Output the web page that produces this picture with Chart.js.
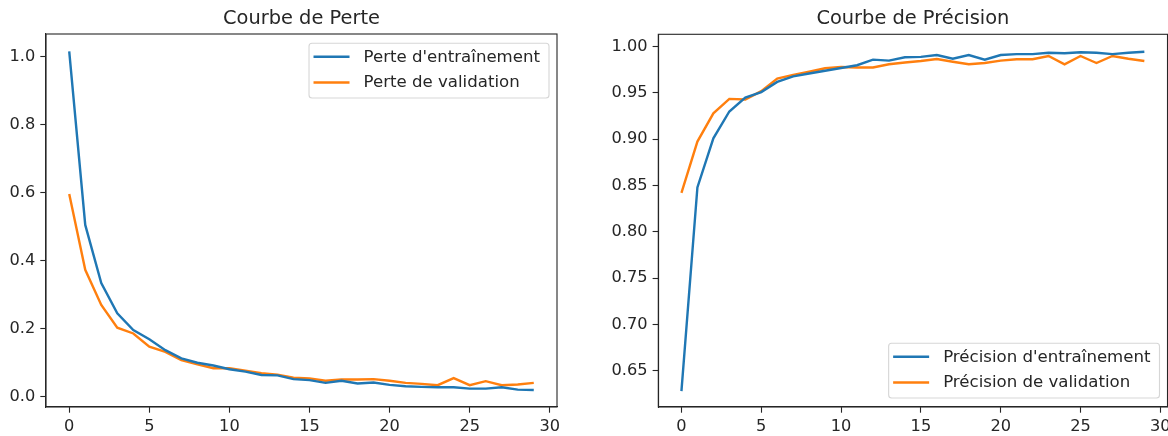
<!DOCTYPE html>
<html>
<head>
<meta charset="utf-8">
<script src="https://cdn.jsdelivr.net/npm/chart.js@4.4.1/dist/chart.umd.min.js"></script>
<style>
  html, body { margin: 0; padding: 0; background: #fff; }
  #wrap { position: relative; width: 1168px; height: 436px; }
  .box { position: absolute; top: 0; width: 584px; height: 436px; }
</style>
</head>
<body>
<div id="wrap">
  <div class="box" style="left:0"><canvas id="lossChart"></canvas></div>
  <div class="box" style="left:584px"><canvas id="accChart"></canvas></div>
</div>
<script>
// Epochs (x)
const epochs = [0,1,2,3,4,5,6,7,8,9,10,11,12,13,14,15,16,17,18,19,20,21,22,23,24,25,26,27,28,29];

// Courbe de Perte
const trainLoss = [1.015,0.505,0.334,0.245,0.196,0.169,0.137,0.113,0.100,0.092,0.081,0.074,0.064,0.063,0.052,
                   0.049,0.041,0.047,0.039,0.042,0.035,0.031,0.029,0.028,0.028,0.024,0.024,0.028,0.021,0.020];
const valLoss   = [0.596,0.373,0.270,0.203,0.186,0.147,0.132,0.108,0.095,0.084,0.084,0.077,0.069,0.065,0.056,
                   0.054,0.047,0.051,0.051,0.052,0.047,0.041,0.038,0.034,0.055,0.034,0.046,0.034,0.036,0.041];

// Courbe de Précision
const trainAcc = [0.628,0.848,0.901,0.930,0.945,0.951,0.962,0.968,0.971,0.974,0.977,0.980,0.986,0.985,0.9886,
                  0.989,0.991,0.987,0.991,0.986,0.991,0.992,0.992,0.9935,0.993,0.994,0.9935,0.992,0.9935,0.9946];
const valAcc   = [0.842,0.8975,0.928,0.9436,0.943,0.952,0.9655,0.9695,0.973,0.9767,0.978,0.9775,0.9775,0.981,0.983,
                  0.9846,0.9867,0.9838,0.981,0.9824,0.985,0.9864,0.9864,0.990,0.981,0.990,0.9824,0.990,0.987,0.9846];

// Tick values
const xTicks = [0, 5, 10, 15, 20, 25, 30];
const lossTicks = [0.0, 0.2, 0.4, 0.6, 0.8, 1.0];
const accTicks = [0.65, 0.70, 0.75, 0.80, 0.85, 0.90, 0.95, 1.00];

const BLUE = '#1f77b4';
const ORANGE = '#ff7f0e';
const INK = '#262626';
const FONT = 'DejaVu Sans';
const TICK_PX = 16.2;
const LEGEND_PX = 16.6;

const toPoints = (ys) => ys.map((y, i) => ({ x: epochs[i], y }));

// Cadre complet + titre + légende façon matplotlib
const mplPlugin = {
  id: 'mpl',
  afterDraw(chart, args, opts) {
    const { ctx, chartArea: a } = chart;
    ctx.save();
    ctx.strokeStyle = INK;
    ctx.lineWidth = 1.1;
    ctx.strokeRect(a.left, a.top, a.right - a.left, a.bottom - a.top);

    // titre
    ctx.fillStyle = INK;
    ctx.font = `19.4px "${FONT}"`;
    ctx.textAlign = 'center';
    ctx.textBaseline = 'alphabetic';
    ctx.fillText(opts.title, (a.left + a.right) / 2, 24);

    // légende
    ctx.font = `${LEGEND_PX}px "${FONT}"`;
    const sets = chart.data.datasets;
    const textW = Math.max(...sets.map(d => ctx.measureText(d.label).width));
    const padL = 4.5, handle = 36, gap = 14, padR = 9;
    const w = padL + handle + gap + textW + padR;
    const h = 54.7, rowH = 25.7;
    const right = a.right - 8;
    const top = opts.legendPos === 'upper right' ? a.top + 9.3 : a.bottom - 9 - h;
    const left = right - w;
    ctx.beginPath();
    ctx.roundRect(left, top, w, h, 3);
    ctx.fillStyle = 'rgba(255,255,255,0.8)';
    ctx.fill();
    ctx.strokeStyle = 'rgba(204,204,204,0.8)';
    ctx.lineWidth = 1.1;
    ctx.stroke();
    sets.forEach((d, i) => {
      const cy = top + 13.5 + i * rowH;
      ctx.beginPath();
      ctx.strokeStyle = d.borderColor;
      ctx.lineWidth = 2.4;
      ctx.moveTo(left + padL, cy);
      ctx.lineTo(left + padL + handle, cy);
      ctx.stroke();
      ctx.fillStyle = INK;
      ctx.textAlign = 'left';
      ctx.textBaseline = 'middle';
      ctx.fillText(d.label, left + padL + handle + gap, cy + 0.5);
    });
    ctx.restore();
  }
};

const makeChart = (canvasId, cfg) => {
  const ctx = document.getElementById(canvasId).getContext('2d');
  return new Chart(ctx, {
    type: 'line',
    data: {
      datasets: cfg.series.map(s => ({
        label: s.label,
        data: toPoints(s.values),
        borderColor: s.color,
        backgroundColor: s.color,
        borderWidth: 2.4,
        pointRadius: 0,
        tension: 0,
        fill: false
      }))
    },
    options: {
      responsive: true,
      maintainAspectRatio: false,
      animation: false,
      events: [],
      layout: { padding: cfg.padding },
      plugins: {
        legend: { display: false },
        tooltip: { enabled: false },
        title: { display: false },
        mpl: { title: cfg.title, legendPos: cfg.legendPos }
      },
      scales: {
        x: {
          type: 'linear',
          min: -1.45,
          max: 30.45,
          afterBuildTicks: (s) => { s.ticks = xTicks.map(v => ({ value: v })); },
          afterFit: (s) => { s.height = 29; s.paddingLeft = 0; s.paddingRight = 0; },
          ticks: {
            color: INK,
            font: { family: FONT, size: TICK_PX },
            padding: 4,
            maxRotation: 0,
            autoSkip: false,
            callback: (v) => String(v)
          },
          grid: { display: true, drawOnChartArea: false, drawTicks: true, tickLength: 5.7, tickWidth: 1.1, tickColor: INK },
          border: { display: true, color: INK, width: 1.1 }
        },
        y: {
          type: 'linear',
          min: cfg.yMin,
          max: cfg.yMax,
          afterBuildTicks: (s) => { s.ticks = cfg.yTicks.map(v => ({ value: v })); },
          afterFit: (s) => { s.width = cfg.yAxisWidth; s.paddingTop = 0; s.paddingBottom = 0; },
          ticks: {
            color: INK,
            font: { family: FONT, size: TICK_PX },
            padding: 5,
            autoSkip: false,
            callback: (v) => v.toFixed(cfg.decimals)
          },
          grid: { display: true, drawOnChartArea: false, drawTicks: true, tickLength: 5.7, tickWidth: 1.1, tickColor: INK },
          border: { display: true, color: INK, width: 1.1 }
        }
      }
    },
    plugins: [mplPlugin]
  });
};

makeChart('lossChart', {
  title: 'Courbe de Perte',
  legendPos: 'upper right',
  series: [
    { label: "Perte d'entraînement", values: trainLoss, color: BLUE },
    { label: 'Perte de validation', values: valLoss, color: ORANGE }
  ],
  yMin: -0.030, yMax: 1.066, yTicks: lossTicks, decimals: 1,
  yAxisWidth: 46,
  padding: { top: 34, right: 27, bottom: 0, left: 0 }
});

makeChart('accChart', {
  title: 'Courbe de Précision',
  legendPos: 'lower right',
  series: [
    { label: "Précision d'entraînement", values: trainAcc, color: BLUE },
    { label: 'Précision de validation', values: valAcc, color: ORANGE }
  ],
  yMin: 0.6108, yMax: 1.0134, yTicks: accTicks, decimals: 2,
  yAxisWidth: 74.3,
  padding: { top: 34.3, right: 0.5, bottom: 0, left: 0 }
});
</script>
</body>
</html>
